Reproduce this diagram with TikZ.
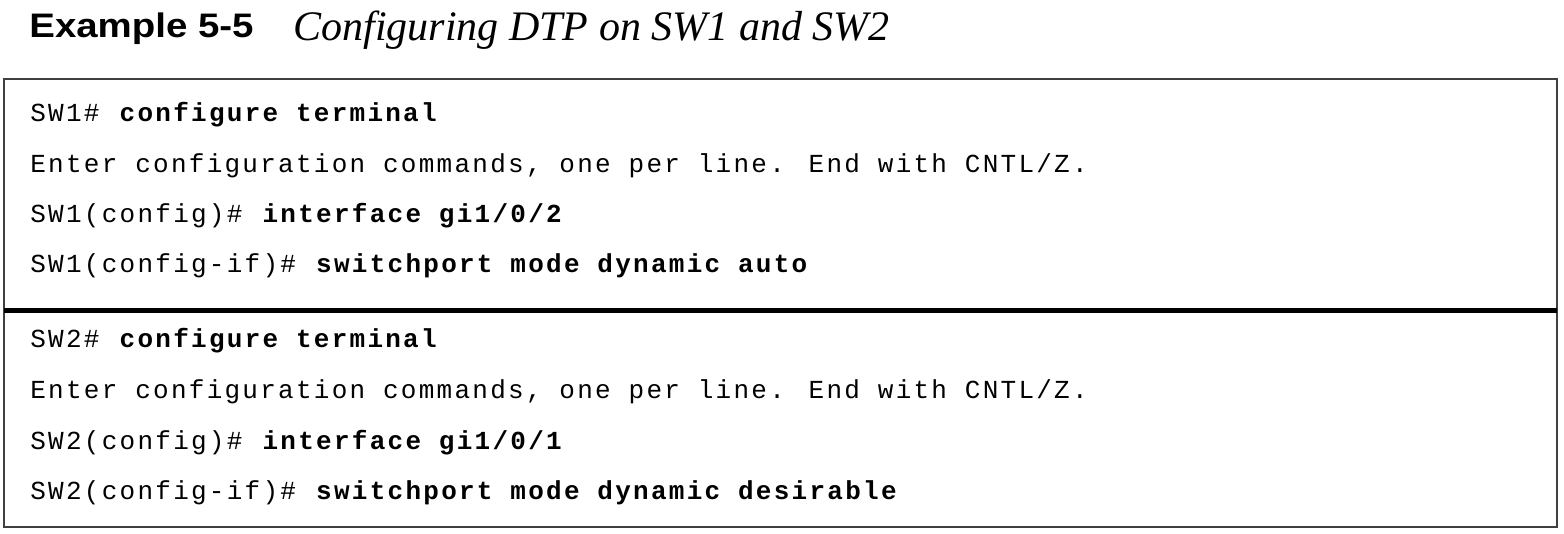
\documentclass[tikz,border=0pt]{standalone}
\usepackage{fontspec}
\setmainfont{Liberation Serif}
\newfontfamily\codefont[LetterSpace=8.7]{Liberation Mono}
\newfontfamily\headfont[FakeStretch=1.13]{Liberation Sans}
\usetikzlibrary{positioning}
\tikzset{
  frame/.style={draw=black!75,line width=1pt},
  divider/.style={line width=2.5pt},
  cmdline/.style={anchor=base west,inner sep=0pt,font=\codefont\fontsize{13}{13}\selectfont},
  heading/.style={anchor=base west,inner sep=0pt}
}
\newcommand{\typed}[1]{\textbf{#1}}
\begin{document}
\begin{tikzpicture}[x=0.5pt,y=-0.5pt]
    \useasboundingbox (0,0) rectangle (1564,534);
    \node[heading,font=\headfont\bfseries\fontsize{17}{17}\selectfont] (number) at (29,38) {Example 5-5};
    \node[heading,font=\itshape\fontsize{21}{21}\selectfont] (caption) at (293,41) {Configuring DTP on SW1 and SW2};

    \draw[frame] (3.5,79) rectangle (1556.5,527);
    \draw[divider] (3.5,311) -- (1556.5,311);

    \node[cmdline] (swa1) at (30,122) {SW1\# \typed{configure terminal}};
    \node[cmdline] (swa2) at (30,172.5) {Enter configuration commands, one per line. End with CNTL/Z.};
    \node[cmdline] (swa3) at (30,223) {SW1(config)\# \typed{interface gi1/0/2}};
    \node[cmdline] (swa4) at (30,273) {SW1(config-if)\# \typed{switchport mode dynamic auto}};

    \node[cmdline] (swb1) at (30,348) {SW2\# \typed{configure terminal}};
    \node[cmdline] (swb2) at (30,398.5) {Enter configuration commands, one per line. End with CNTL/Z.};
    \node[cmdline] (swb3) at (30,449) {SW2(config)\# \typed{interface gi1/0/1}};
    \node[cmdline] (swb4) at (30,499) {SW2(config-if)\# \typed{switchport mode dynamic desirable}};
\end{tikzpicture}
\end{document}
